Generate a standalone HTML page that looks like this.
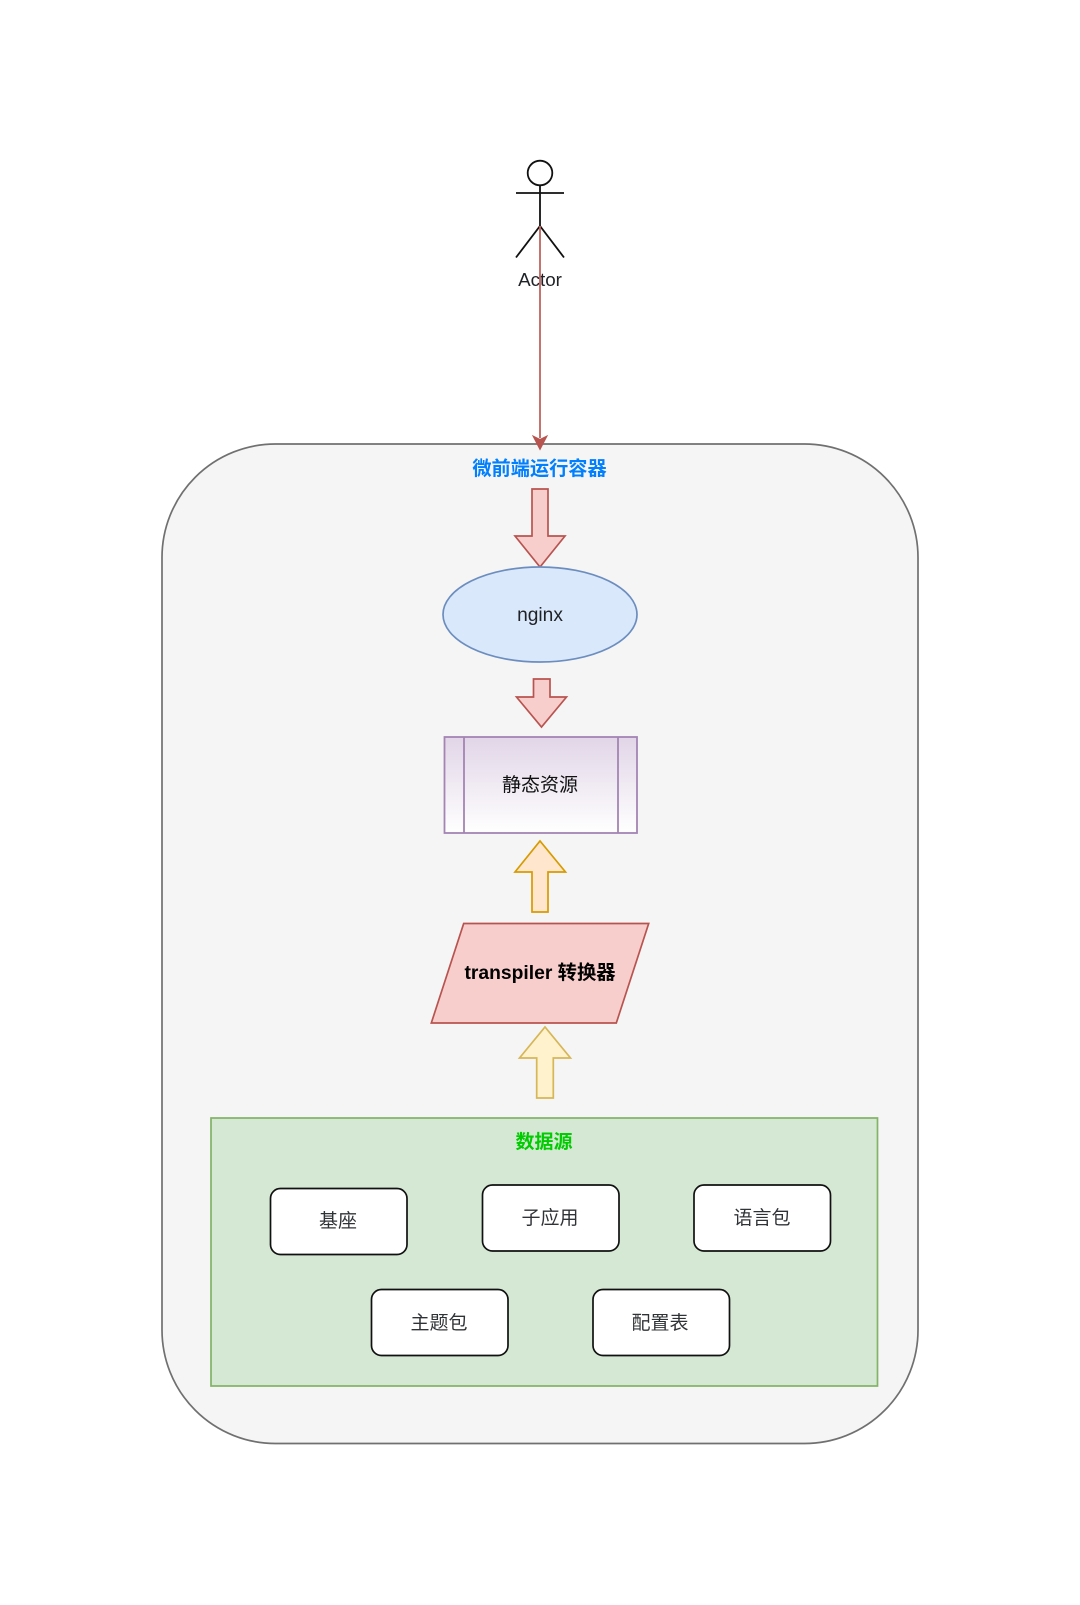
<!DOCTYPE html>
<html lang="zh">
<head>
<meta charset="utf-8">
<title>微前端运行容器</title>
<style>
html,body{margin:0;padding:0;background:#fff;width:1080px;height:1605px;overflow:hidden}
svg{display:block}
text{font-family:"Liberation Sans","Noto Sans CJK SC",sans-serif;text-anchor:middle;fill:#1f2226;font-size:19px}
.b{font-weight:bold}
</style>
</head>
<body>
<svg width="1080" height="1605" viewBox="0 0 1080 1605" xmlns="http://www.w3.org/2000/svg">
<defs>
<linearGradient id="g" x1="0" y1="0" x2="0" y2="1">
<stop offset="0" stop-color="#e1d5e7"/>
<stop offset="1" stop-color="#ffffff"/>
</linearGradient>
</defs>
<rect width="1080" height="1605" fill="#fff"/>

<!-- container -->
<rect x="162" y="444" width="756" height="999.500" rx="113.500" ry="113.500" fill="#f5f5f5" stroke="#707070" stroke-width="1.700"/>

<!-- actor -->
<g fill="none" stroke="#111" stroke-width="1.800">
<circle cx="540" cy="173" r="12.300" fill="#fff"/>
<path d="M540 185.500V226M516 193H564M516 257.500L540 226L564 257.500"/>
</g>
<text x="540" y="286" style="font-size:18.800px">Actor</text>

<!-- connector -->
<path d="M540 226V438" fill="none" stroke="#c0635f" stroke-width="1.800"/>
<path d="M540 449.500L533 436L540 439.500L547 436Z" fill="#b85450" stroke="#b85450" stroke-width="1"/>

<text class="b" x="539.500" y="475" style="fill:#007fff;font-size:19.200px">微前端运行容器</text>

<!-- arrow 1 -->
<path d="M532 489H548V536H565L540 567L515 536H532Z" fill="#f8cecc" stroke="#b85450" stroke-width="1.700"/>

<!-- nginx -->
<ellipse cx="540" cy="614.500" rx="97" ry="47.500" fill="#dae8fc" stroke="#6c8ebf" stroke-width="1.700"/>
<text x="540" y="621" style="font-size:19.200px">nginx</text>

<!-- arrow 2 -->
<path d="M533.500 679H550V697H566.500L541.500 727L516.500 697H533.500Z" fill="#f8cecc" stroke="#b85450" stroke-width="1.700"/>

<!-- static resources -->
<rect x="444.500" y="737" width="192.500" height="96" fill="url(#g)" stroke="#a484b3" stroke-width="1.800"/>
<path d="M464 737V833M618 737V833" fill="none" stroke="#a484b3" stroke-width="1.800"/>
<text x="540" y="791" style="fill:#111">静态资源</text>

<!-- arrow 3 -->
<path d="M532 912V872H515L540 841L565.500 872H548V912Z" fill="#ffe6cc" stroke="#d79b00" stroke-width="1.700"/>

<!-- transpiler -->
<path d="M463.700 923.500H648.700L616.300 1023H431.300Z" fill="#f8cecc" stroke="#b85450" stroke-width="1.700"/>
<text class="b" x="540" y="979" style="fill:#000;font-size:19.300px">transpiler 转换器</text>

<!-- arrow 4 -->
<path d="M536.700 1098V1058H519.500L545 1027L570.500 1058H553.300V1098Z" fill="#fff2cc" stroke="#d6b656" stroke-width="1.700"/>

<!-- data source -->
<rect x="211" y="1118" width="666.500" height="268" fill="#d5e8d4" stroke="#82b366" stroke-width="1.700"/>
<text class="b" x="544" y="1148" style="fill:#00cc00">数据源</text>

<g fill="#fff" stroke="#111" stroke-width="1.700">
<rect x="270.500" y="1188.500" width="136.500" height="66" rx="10"/>
<rect x="482.500" y="1185" width="136.500" height="66" rx="10"/>
<rect x="694" y="1185" width="136.500" height="66" rx="10"/>
<rect x="371.500" y="1289.500" width="136.500" height="66" rx="10"/>
<rect x="593" y="1289.500" width="136.500" height="66" rx="10"/>
</g>
<g style="opacity:.92">
<text x="338" y="1227">基座</text>
<text x="550" y="1224">子应用</text>
<text x="762" y="1224">语言包</text>
<text x="439" y="1329">主题包</text>
<text x="660" y="1329">配置表</text>
</g>
</svg>
</body>
</html>
